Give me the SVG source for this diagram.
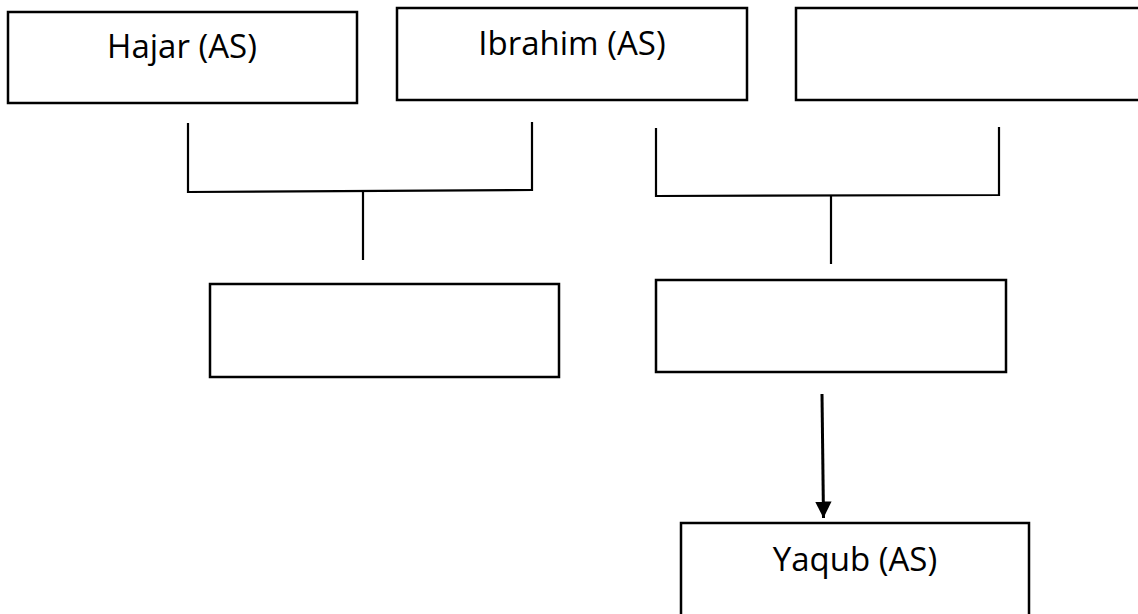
<svg xmlns="http://www.w3.org/2000/svg" width="1138" height="614" viewBox="0 0 1138 614">
<defs>
<style>
.box{fill:#fff;stroke:#000;stroke-width:2.5}
.ln{fill:none;stroke:#000;stroke-width:2.2}
.arr{fill:none;stroke:#000;stroke-width:3}
.lbl{font-family:"Open Sans","Liberation Sans",sans-serif;font-size:33px;fill:#000;text-anchor:middle}
</style>
<marker id="ah" viewBox="0 0 10 10" refX="10" refY="5" markerWidth="5.5" markerHeight="5.5" markerUnits="strokeWidth" orient="auto">
<path d="M0,0 L10,5 L0,10 z" fill="#000"/>
</marker>
</defs>
<rect width="1138" height="614" fill="#fff"/>
<g id="hajar"><rect class="box" x="8" y="12" width="349" height="91"/><text class="lbl" x="182" y="58">Hajar (AS)</text></g>
<g id="ibrahim"><rect class="box" x="397" y="8" width="350" height="92"/><text class="lbl" x="572" y="55">Ibrahim (AS)</text></g>
<g id="box3"><rect class="box" x="796" y="8" width="360" height="92"/></g>
<g id="child1"><rect class="box" x="210" y="284" width="349" height="93"/></g>
<g id="child2"><rect class="box" x="656" y="280" width="350" height="92"/></g>
<g id="yaqub"><rect class="box" x="681" y="523" width="348" height="110"/><text class="lbl" x="855" y="571">Yaqub (AS)</text></g>
<g id="connectors">
<polyline class="ln" points="188,123 188,192 532,190 532,122"/>
<line class="ln" x1="363" y1="191" x2="363" y2="260"/>
<polyline class="ln" points="656,128 656,196 999,195 999,127"/>
<line class="ln" x1="831" y1="195" x2="831" y2="264"/>
<line class="arr" x1="822" y1="394" x2="823.5" y2="518" marker-end="url(#ah)"/>
</g>
</svg>
